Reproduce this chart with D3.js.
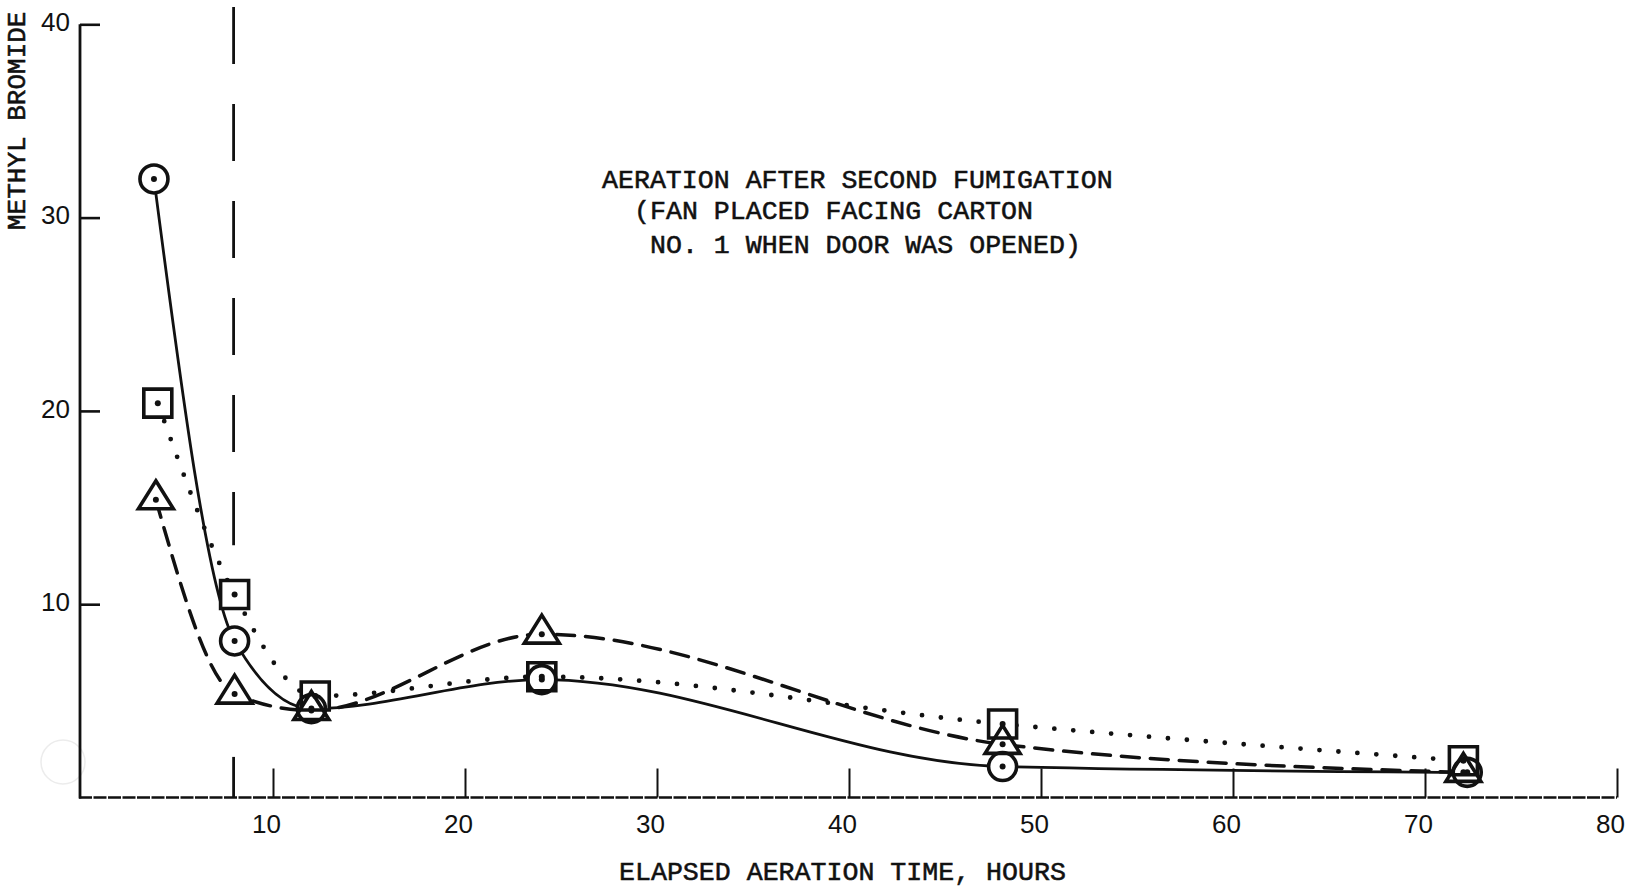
<!DOCTYPE html>
<html>
<head>
<meta charset="utf-8">
<script src="https://cdn.jsdelivr.net/npm/d3@7"></script>
<style>
  html, body { margin: 0; padding: 0; background: #fff; }
  svg { display: block; }
</style>
</head>
<body>
<svg id="chart" width="1628" height="888"></svg>
<script>
// Methyl bromide concentration during aeration, three sampling positions
const hoursCircle   = [3.8, 8, 12, 24, 48, 72.2];
const valuesCircle  = [32, 8.1, 4.6, 6.1, 1.6, 1.3];

const hoursSquare   = [4, 8, 12.2, 24, 48, 72];
const valuesSquare  = [20.4, 10.5, 5.25, 6.25, 3.8, 1.9];

const hoursTriangle  = [3.9, 8, 12, 24, 48, 72];
const valuesTriangle = [15.4, 5.35, 4.5, 8.45, 2.75, 1.3];

const xTickValues = [10, 20, 30, 40, 50, 60, 70, 80];
const yTickValues = [10, 20, 30, 40];

const titleLines = [
  "AERATION AFTER SECOND FUMIGATION",
  "(FAN PLACED FACING CARTON",
  "NO. 1 WHEN DOOR WAS OPENED)"
];
const xTitle = "ELAPSED AERATION TIME, HOURS";
const yTitle = "METHYL BROMIDE";

// door opened at 8 hours: vertical reference line, drawn in two spans (values)
const doorOpenedHour = 8;
const doorLineSpans = [[40.9, 13.05], [2.1, 0]];

const svg = d3.select("#chart");
svg.append("rect").attr("width", 1628).attr("height", 888).attr("fill", "#fff");

const x = d3.scaleLinear().domain([0, 80]).range([81, 1617]);
const y = d3.scaleLinear().domain([0, 40]).range([797.5, 24.3]);

const ink = "#111";
const typeFont = "'Liberation Mono', 'DejaVu Sans Mono', monospace";
const numFont = "'Liberation Sans', Arial, sans-serif";

// faint scanning ring near the lower left corner
svg.append("circle").attr("cx", 63).attr("cy", 762).attr("r", 22)
  .attr("fill", "none").attr("stroke", "#ececec").attr("stroke-width", 1.5);

// ---- axes ----
const yAxis = d3.axisLeft(y).tickValues(yTickValues).tickSize(-20).tickPadding(10)
  .tickFormat(d3.format("d"));
const gy = svg.append("g").attr("transform", `translate(${x(0) - 1},0)`).call(yAxis);
gy.select(".domain").remove();
gy.selectAll(".tick line").attr("stroke", ink).attr("stroke-width", 2.6);
gy.selectAll(".tick text").attr("fill", ink).attr("font-family", numFont)
  .attr("font-size", 26).attr("dy", "0.24em");

const xAxis = d3.axisBottom(x).tickValues(xTickValues).tickSize(-29).tickPadding(17)
  .tickFormat(d3.format("d"));
const gx = svg.append("g").attr("transform", `translate(0,${y(0)})`).call(xAxis);
gx.select(".domain").remove();
gx.selectAll(".tick line").attr("stroke", ink).attr("stroke-width", 2);
gx.selectAll(".tick text").attr("fill", ink).attr("font-family", numFont)
  .attr("font-size", 26).attr("x", -7);

// axis lines
svg.append("line")
  .attr("x1", x(0) - 1).attr("x2", x(0) - 1).attr("y1", y(40)).attr("y2", y(0) + 1)
  .attr("stroke", ink).attr("stroke-width", 2.8);
svg.append("line")
  .attr("x1", x(0) - 2).attr("x2", x(80)).attr("y1", y(0)).attr("y2", y(0))
  .attr("stroke", ink).attr("stroke-width", 2.6).attr("stroke-dasharray", "13,1.5");

// door-opened reference line
svg.append("g").selectAll("line").data(doorLineSpans).join("line")
  .attr("x1", x(doorOpenedHour) - 1).attr("x2", x(doorOpenedHour) - 1)
  .attr("y1", d => y(d[0])).attr("y2", d => y(d[1]))
  .attr("stroke", ink).attr("stroke-width", 2.8)
  .attr("stroke-dasharray", (d, i) => i === 0 ? "57,40" : null);

// ---- series ----
const series = [
  { hours: hoursCircle, values: valuesCircle, shape: "circle", dash: null, width: 2.8, cap: "butt" },
  { hours: hoursSquare, values: valuesSquare, shape: "square", dash: "0,19", width: 4.8, cap: "round" },
  { hours: hoursTriangle, values: valuesTriangle, shape: "triangle", dash: "18,11", width: 3.5, cap: "round" }
];

const line = d3.line().x(d => x(d[0])).y(d => y(d[1])).curve(d3.curveMonotoneX);

series.forEach(s => {
  const pts = s.hours.map((h, i) => [h, s.values[i]]);
  svg.append("path").datum(pts)
    .attr("d", line)
    .attr("fill", "none").attr("stroke", ink)
    .attr("stroke-width", s.width)
    .attr("stroke-linecap", s.cap)
    .attr("stroke-dasharray", s.dash);
});

function markerPath(shape, cx, cy) {
  if (shape === "circle") {
    const p = d3.path(); p.arc(cx, cy, 14, 0, 2 * Math.PI); return p.toString();
  }
  if (shape === "square") {
    return `M${cx - 14},${cy - 14}H${cx + 14}V${cy + 14}H${cx - 14}Z`;
  }
  return `M${cx},${cy - 19}L${cx + 17.5},${cy + 9}L${cx - 17.5},${cy + 9}Z`;
}

const markers = [];
series.forEach(s => s.hours.forEach((h, i) =>
  markers.push({ shape: s.shape, cx: x(h), cy: y(s.values[i]) })));

// white backing first so every outline stays visible where markers overlap
svg.append("g").selectAll("path").data(markers).join("path")
  .attr("d", d => markerPath(d.shape, d.cx, d.cy))
  .attr("fill", "#fff").attr("stroke", "none");
svg.append("g").selectAll("path").data(markers).join("path")
  .attr("d", d => markerPath(d.shape, d.cx, d.cy))
  .attr("fill", "none").attr("stroke", ink).attr("stroke-width", 3.6)
  .attr("stroke-linejoin", "miter");
svg.append("g").selectAll("circle").data(markers).join("circle")
  .attr("cx", d => d.cx).attr("cy", d => d.cy).attr("r", 3)
  .attr("fill", ink);

// ---- text (typewriter lettering) ----
function typed(sel, size = 26.6) {
  return sel.attr("font-family", typeFont).attr("font-size", size)
    .attr("fill", ink).attr("stroke", ink).attr("stroke-width", 0.55);
}

const titleX = [602, 634, 650];
const titleY = [188, 219, 253];
titleLines.forEach((t, i) => {
  typed(svg.append("text").attr("x", titleX[i]).attr("y", titleY[i])).text(t);
});

typed(svg.append("text").attr("x", 619).attr("y", 880)).text(xTitle);

typed(svg.append("text")
  .attr("transform", "translate(25,230) rotate(-90)"), 26)
  .text(yTitle);
</script>
</body>
</html>
